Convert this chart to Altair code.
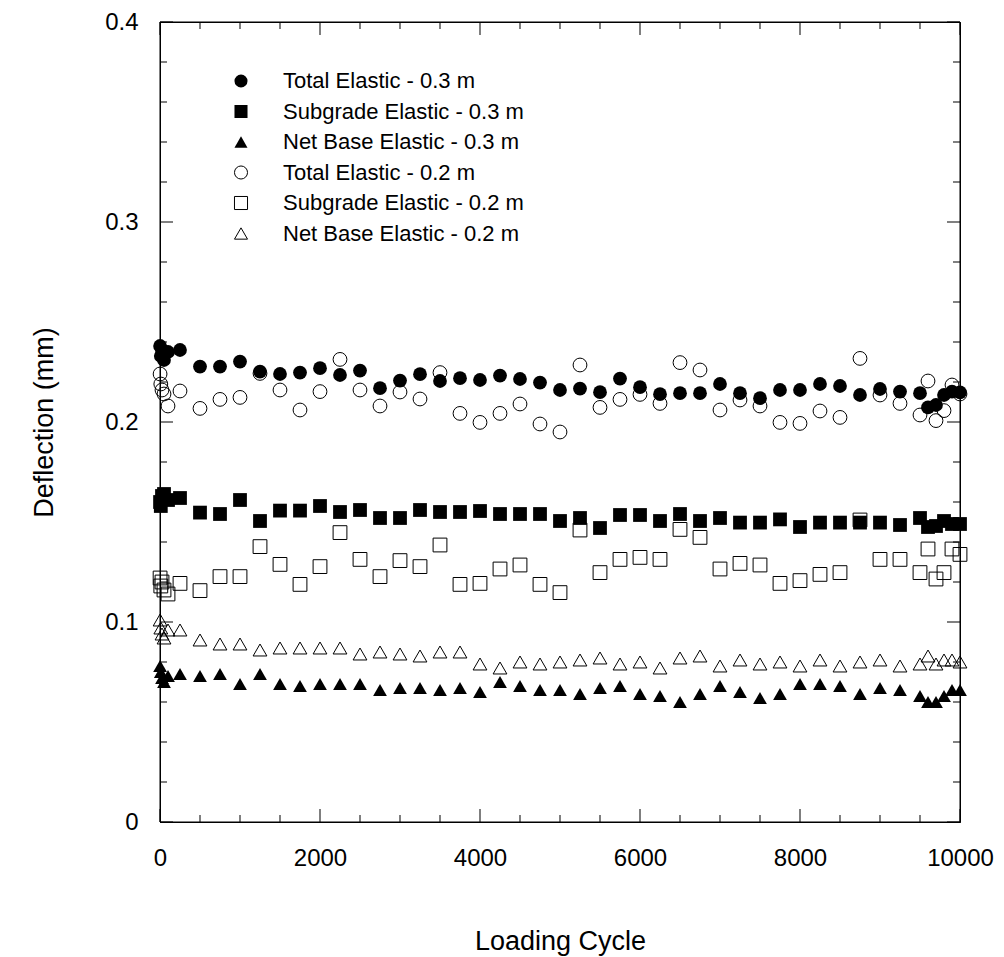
import altair as alt
import pandas as pd

# Loading cycles at which deflections were recorded
cycles = [1, 10, 25, 50, 100, 250,
          500, 750, 1000, 1250, 1500, 1750, 2000, 2250, 2500, 2750,
          3000, 3250, 3500, 3750, 4000, 4250, 4500, 4750, 5000, 5250,
          5500, 5750, 6000, 6250, 6500, 6750, 7000, 7250, 7500, 7750,
          8000, 8250, 8500, 8750, 9000, 9250, 9500,
          9600, 9700, 9800, 9900, 10000]

total_03 = [0.238, 0.233, 0.236, 0.231, 0.235, 0.236,
            0.2277, 0.2277, 0.2302, 0.2252, 0.224, 0.2247, 0.2269, 0.2235, 0.2257, 0.2169,
            0.2207, 0.2239, 0.2205, 0.2219, 0.221, 0.2232, 0.2215, 0.2197, 0.216, 0.2167,
            0.2149, 0.2217, 0.2174, 0.2139, 0.2144, 0.2144, 0.219, 0.2144, 0.2119, 0.216,
            0.216, 0.219, 0.218, 0.2135, 0.2165, 0.2152, 0.2144,
            0.2073, 0.2085, 0.2135, 0.2152, 0.2148]

subgrade_03 = [0.160, 0.158, 0.163, 0.164, 0.161, 0.162,
               0.1547, 0.154, 0.161, 0.1505, 0.1557, 0.1557, 0.158, 0.155, 0.156, 0.152,
               0.152, 0.156, 0.155, 0.155, 0.1555, 0.154, 0.154, 0.154, 0.1505, 0.152,
               0.147, 0.1535, 0.1535, 0.1505, 0.154, 0.1505, 0.152, 0.1497, 0.1497, 0.1513,
               0.1475, 0.1497, 0.1497, 0.1497, 0.1497, 0.1485, 0.152,
               0.1475, 0.148, 0.1505, 0.149, 0.149]

netbase_03 = [0.078, 0.075, 0.072, 0.070, 0.073, 0.074,
              0.073, 0.074, 0.069, 0.074, 0.069, 0.068, 0.069, 0.069, 0.069, 0.066,
              0.067, 0.067, 0.066, 0.067, 0.065, 0.070, 0.068, 0.066, 0.066, 0.064,
              0.067, 0.068, 0.064, 0.063, 0.060, 0.064, 0.068, 0.065, 0.062, 0.064,
              0.069, 0.069, 0.068, 0.064, 0.067, 0.066, 0.063,
              0.060, 0.060, 0.063, 0.066, 0.066]

total_02 = [0.224, 0.219, 0.216, 0.214, 0.208, 0.2155,
            0.2068, 0.2113, 0.2123, 0.2243, 0.216, 0.206, 0.2152, 0.2313, 0.216, 0.208,
            0.215, 0.2115, 0.2247, 0.2043, 0.1998, 0.2043, 0.209, 0.199, 0.195, 0.2285,
            0.2073, 0.2113, 0.2138, 0.2093, 0.2297, 0.226, 0.206, 0.211, 0.208, 0.1998,
            0.1993, 0.2055, 0.2023, 0.2318, 0.2135, 0.2093, 0.2035,
            0.2205, 0.2007, 0.2057, 0.2185, 0.214]

subgrade_02 = [0.122, 0.118, 0.120, 0.116, 0.114, 0.1193,
               0.1157, 0.1227, 0.1227, 0.1377, 0.1288, 0.1188, 0.1277, 0.1447, 0.1313, 0.1227,
               0.1307, 0.1277, 0.1385, 0.1188, 0.1193, 0.1265, 0.1285, 0.1188, 0.1147, 0.146,
               0.1247, 0.1313, 0.1323, 0.1313, 0.1463, 0.1423, 0.1265, 0.1293, 0.1285, 0.1193,
               0.1207, 0.1238, 0.1247, 0.151, 0.1313, 0.1313, 0.1247,
               0.1365, 0.1215, 0.1247, 0.1365, 0.1338]

netbase_02 = [0.101, 0.097, 0.094, 0.092, 0.096, 0.096,
              0.091, 0.089, 0.089, 0.086, 0.087, 0.087, 0.087, 0.087, 0.084, 0.085,
              0.084, 0.083, 0.085, 0.085, 0.079, 0.077, 0.080, 0.079, 0.080, 0.081,
              0.082, 0.079, 0.080, 0.077, 0.082, 0.083, 0.078, 0.081, 0.079, 0.080,
              0.078, 0.081, 0.078, 0.080, 0.081, 0.078, 0.079,
              0.083, 0.079, 0.081, 0.081, 0.080]

filled_names = ["Total Elastic - 0.3 m", "Subgrade Elastic - 0.3 m", "Net Base Elastic - 0.3 m"]
open_names = ["Total Elastic - 0.2 m", "Subgrade Elastic - 0.2 m", "Net Base Elastic - 0.2 m"]
shapes = ["circle", "square", "triangle-up"]

# Axis tick positions
x_major = [0, 2000, 4000, 6000, 8000, 10000]
x_minor = [500, 1000, 1500, 2500, 3000, 3500, 4500, 5000, 5500,
           6500, 7000, 7500, 8500, 9000, 9500]
y_major = [0, 0.1, 0.2, 0.3, 0.4]
y_minor = [0.02, 0.04, 0.06, 0.08, 0.12, 0.14, 0.16, 0.18,
           0.22, 0.24, 0.26, 0.28, 0.32, 0.34, 0.36, 0.38]

W, H = 800, 800
MAJOR, MINOR = 13, 7
FONT = "Liberation Sans"
ROW = 30.5


def series_frame(names, values):
    return pd.concat(
        [pd.DataFrame({"cycle": cycles, "deflection": v, "series": n})
         for n, v in zip(names, values)],
        ignore_index=True)


df_filled = series_frame(filled_names, [total_03, subgrade_03, netbase_03])
df_open = series_frame(open_names, [total_02, subgrade_02, netbase_02])

xscale = alt.Scale(domain=[0, 10000], nice=False, zero=False)
yscale = alt.Scale(domain=[0, 0.4], nice=False, zero=False)

xaxis = alt.Axis(orient="bottom", values=x_major, format="d", ticks=False,
                 domain=True, domainColor="black", domainWidth=1, grid=False,
                 labelFlush=False, labelOverlap=False,
                 labelFontSize=24, labelPadding=24, labelFont=FONT, labelColor="black",
                 title="Loading Cycle", titleFont=FONT, titleFontSize=27,
                 titleFontWeight="normal", titlePadding=58, titleColor="black")
yaxis = alt.Axis(orient="left", values=y_major, format=".1~f", ticks=False,
                 domain=True, domainColor="black", domainWidth=1, grid=False,
                 labelFlush=False, labelOverlap=False,
                 labelFontSize=24, labelPadding=22, labelFont=FONT, labelColor="black",
                 title="Deflection (mm)", titleFont=FONT, titleFontSize=27,
                 titleFontWeight="normal", titlePadding=46, titleColor="black")


def make_legend(y):
    return alt.Legend(
        title=None, orient="none", legendX=70, legendY=y, padding=0,
        labelFont=FONT, labelFontSize=22, labelColor="black", labelLimit=400,
        labelOffset=31, symbolSize=170, rowPadding=ROW - 22,
        symbolStrokeWidth=1,
    )


open_pts = alt.Chart(df_open).mark_point(
    filled=False, color="black", strokeWidth=1, opacity=1, size=190
).encode(
    x=alt.X("cycle:Q", scale=xscale, axis=xaxis),
    y=alt.Y("deflection:Q", scale=yscale, axis=yaxis),
    shape=alt.Shape("series:N", legend=make_legend(48 + 3 * ROW),
                    scale=alt.Scale(domain=open_names, range=shapes)),
)

filled_pts = alt.Chart(df_filled).mark_point(
    filled=True, color="black", opacity=1, size=190
).encode(
    x=alt.X("cycle:Q", scale=xscale, axis=None),
    y=alt.Y("deflection:Q", scale=yscale, axis=None),
    shape=alt.Shape("series:N", legend=make_legend(48),
                    scale=alt.Scale(domain=filled_names, range=shapes)),
)

# Frame sides as thin filled bars
side = pd.DataFrame({"side": ["frame"]})


def frame_bar(x0, x1, y0, y1):
    return alt.Chart(side).mark_rect(fill="black", stroke=None).encode(
        x=alt.value(x0), x2=alt.value(x1), y=alt.value(y0), y2=alt.value(y1))


frame = [
    frame_bar(-0.5, 0.5, 0, H), frame_bar(W - 0.5, W + 0.5, 0, H),
    frame_bar(0, W, -0.5, 0.5), frame_bar(0, W, H - 0.5, H + 0.5),
]


# Inward tick marks drawn as filled ticks
def y_ticks(vals, length, right):
    xc = W - length / 2 if right else length / 2
    return alt.Chart(pd.DataFrame({"tick": vals})).mark_tick(
        color="black", thickness=1, size=length, opacity=1
    ).encode(
        y=alt.Y("tick:Q", scale=yscale, axis=None),
        x=alt.value(xc))


def x_ticks(vals, length, top):
    yc = length / 2 if top else H - length / 2
    return alt.Chart(pd.DataFrame({"tick": vals})).mark_tick(
        color="black", thickness=1, size=length, opacity=1
    ).encode(
        x=alt.X("tick:Q", scale=xscale, axis=None),
        y=alt.value(yc))


ticks = [
    y_ticks(y_major, MAJOR, False), y_ticks(y_minor, MINOR, False),
    y_ticks(y_major, MAJOR, True), y_ticks(y_minor, MINOR, True),
    x_ticks(x_major, MAJOR, False), x_ticks(x_minor, MINOR, False),
    x_ticks(x_major, MAJOR, True), x_ticks(x_minor, MINOR, True),
]

chart = alt.layer(open_pts, filled_pts, *frame, *ticks).resolve_axis(
    x="independent", y="independent"
).resolve_scale(shape="independent").properties(
    width=W, height=H,
    autosize=alt.AutoSizeParams(type="none"),
    padding={"left": 160, "top": 22, "right": 44, "bottom": 135},
    background="white",
).configure_view(stroke="black", strokeWidth=1)

chart.save("out.html", embed_options={"renderer": "svg", "actions": False})
